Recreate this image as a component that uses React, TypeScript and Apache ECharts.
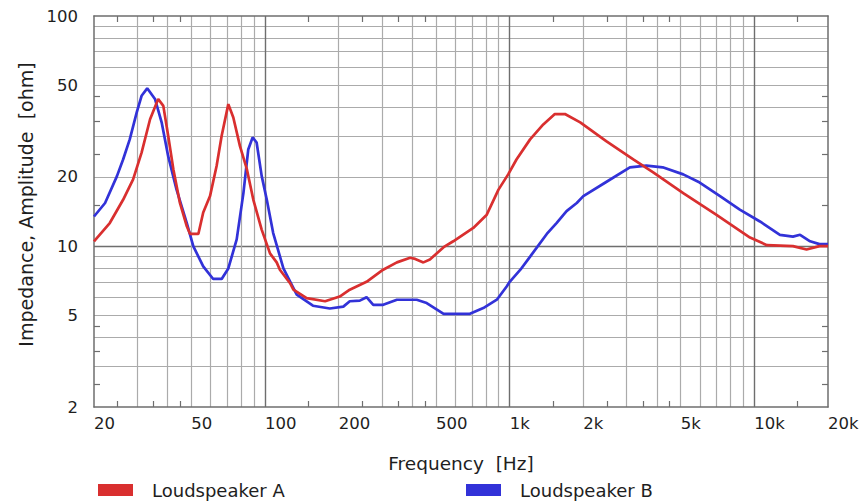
import React, { useEffect, useRef } from 'react';
import * as echarts from 'echarts';

// Loudspeaker A (red)
const freqA = [20, 23.2, 26.3, 28.9, 31.3, 33.9, 36.6, 38.4, 40.2, 42.2, 44.9, 47.9, 49.4, 53.4, 55.9, 59.6, 63.4, 66.5, 70.8, 74.2, 79, 84.3, 89.6, 96.9, 104.8, 111.6, 115, 126.6, 130.6, 148, 176, 202, 222, 260, 304, 346, 392, 411, 444, 472, 537, 588, 710, 806, 900, 986, 1066, 1212, 1372, 1530, 1682, 1942, 2480, 3200, 3860, 5120, 6980, 9600, 11260, 14380, 16340, 18460, 20000];
const impA = [10.5, 12.6, 15.9, 19.5, 25.5, 35.6, 43.6, 40.7, 30.2, 21.6, 15.4, 12.2, 11.3, 11.3, 14, 16.5, 22.3, 30.2, 41.4, 36.2, 27.2, 21.6, 15.9, 11.8, 9.3, 8.5, 7.9, 6.9, 6.47, 5.94, 5.76, 6.04, 6.47, 7.0, 7.9, 8.5, 8.9, 8.8, 8.5, 8.75, 9.9, 10.5, 12.0, 13.7, 17.6, 20.5, 23.8, 29.1, 33.8, 37.5, 37.5, 34.5, 28.6, 23.8, 20.9, 17, 13.7, 10.9, 10.1, 10.0, 9.67, 10, 10];

// Loudspeaker B (blue)
const freqB = [20, 22.2, 24.8, 26.3, 28, 29.9, 31.3, 33, 35.5, 37.8, 40.2, 43.5, 47.9, 50.9, 55.9, 61.4, 66.5, 70.8, 76.6, 81.6, 85.4, 89, 92.4, 96.9, 101.7, 108, 118.9, 134.8, 157, 184, 209, 222, 244, 260, 277, 304, 346, 417, 458, 537, 688, 780, 886, 972, 1000, 1106, 1212, 1418, 1554, 1708, 1880, 2000, 2480, 3100, 3620, 4220, 5120, 5980, 7240, 8720, 10540, 12720, 14380, 15380, 16900, 18460, 20000];
const impB = [13.45, 15.4, 20.1, 23.8, 29.1, 38.1, 45, 48.5, 43.6, 34.5, 24.6, 17.6, 12.6, 10, 8.16, 7.2, 7.2, 8.0, 10.7, 17, 26.3, 29.7, 28.2, 20.2, 15.9, 11.4, 8.0, 6.15, 5.51, 5.36, 5.46, 5.76, 5.8, 6.0, 5.56, 5.56, 5.85, 5.85, 5.66, 5.08, 5.08, 5.38, 5.85, 6.68, 7.0, 7.9, 9.0, 11.3, 12.6, 14.2, 15.4, 16.5, 19, 22, 22.4, 22, 20.5, 18.9, 16.5, 14.4, 12.8, 11.2, 11.0, 11.2, 10.5, 10.2, 10.2];

const seriesNames = ['Loudspeaker A', 'Loudspeaker B'];

// Axis tick / grid values
const xLabelValues = [20, 50, 100, 200, 500, 1000, 2000, 5000, 10000, 20000];
const xGridLight = [30, 40, 50, 60, 70, 80, 90, 200, 300, 400, 500, 600, 700, 800, 900, 2000, 3000, 4000, 5000, 6000, 7000, 8000, 9000];
const xGridDecade = [100, 1000, 10000];
const xHalfTicks = [25, 35, 45, 150, 250, 350, 450, 1500, 2500, 3500, 4500, 15000];

const yLabelValues = [2, 5, 10, 20, 50, 100];
const yGridLight = [3, 4, 5, 6, 7, 8, 9, 20, 30, 40, 50, 60, 70, 80, 90];
const yGridDecade = [10];
const yHalfTicks = [2.5, 3.5, 4.5, 15, 25, 35, 45];

const FONT = 'DejaVu Sans';
const TEXT = '#1e1e1e';
const BORDER = '#6e6e6e';
const LIGHT = '#ababab';
const RED = '#d92f2f';
const BLUE = '#3232d8';

function fmtX(v: number) {
  const r = Math.round(v);
  return r >= 1000 ? Math.round(r / 1000) + 'k' : String(r);
}

export default function App() {
  const ref = useRef<HTMLDivElement>(null);
  useEffect(() => {
    if (!ref.current) return;
    const chart = echarts.init(ref.current, undefined, { renderer: 'svg' });

    const xBase = { type: 'log', logBase: 10, min: 20, max: 20000, gridIndex: 0 };
    const yBase = { type: 'log', logBase: 10, min: 2, max: 100, gridIndex: 0 };
    const hidden = { show: false };
    const tickStyle = { color: BORDER, width: 1.2 };

    const legendText = { fontFamily: FONT, fontSize: 18, color: TEXT, padding: [0, 0, 18, 14] };

    const option: any = {
      animation: false,
      backgroundColor: '#ffffff',
      grid: { left: 94, right: 36, top: 16, bottom: 94 },
      legend: [
        {
          data: [seriesNames[0]], left: 98, top: 481, padding: 0, icon: 'rect',
          itemWidth: 35, itemHeight: 12, textStyle: legendText,
        },
        {
          data: [seriesNames[1]], left: 466, top: 481, padding: 0, icon: 'rect',
          itemWidth: 35, itemHeight: 12, textStyle: legendText,
        },
      ],
      xAxis: [
        {
          ...xBase, position: 'bottom',
          name: 'Frequency  [Hz]', nameLocation: 'middle', nameGap: 47,
          nameTextStyle: { fontFamily: FONT, fontSize: 18.5, color: TEXT },
          axisLine: { show: true, onZero: false, lineStyle: { color: BORDER, width: 1.5 } },
          axisTick: { show: true, inside: true, length: 6, customValues: xHalfTicks, lineStyle: tickStyle },
          axisLabel: {
            customValues: xLabelValues, formatter: fmtX, align: 'left', margin: 8,
            fontFamily: FONT, fontSize: 16.5, color: TEXT,
          },
          splitLine: hidden, minorTick: hidden, minorSplitLine: hidden,
        },
        {
          ...xBase, position: 'top',
          axisLine: { show: true, onZero: false, lineStyle: { color: BORDER, width: 1.5 } },
          axisTick: { show: true, inside: true, length: 6, customValues: xHalfTicks, lineStyle: tickStyle },
          axisLabel: hidden, splitLine: hidden,
        },
        {
          ...xBase, position: 'bottom',
          axisLine: hidden, axisLabel: hidden,
          axisTick: { show: false, customValues: xGridLight },
          splitLine: { show: true, lineStyle: { color: LIGHT, width: 1.2 } },
        },
        {
          ...xBase, position: 'bottom',
          axisLine: hidden, axisLabel: hidden,
          axisTick: { show: false, customValues: xGridDecade },
          splitLine: { show: true, lineStyle: { color: BORDER, width: 1.4 } },
        },
      ],
      yAxis: [
        {
          ...yBase, position: 'left',
          name: 'Impedance, Amplitude  [ohm]', nameLocation: 'middle', nameGap: 58,
          nameTextStyle: { fontFamily: FONT, fontSize: 19, color: TEXT, padding: [0, 0, 0, 14] },
          axisLine: { show: true, onZero: false, lineStyle: { color: BORDER, width: 1.5 } },
          axisTick: { show: true, inside: true, length: 6, customValues: yHalfTicks, lineStyle: tickStyle },
          axisLabel: {
            customValues: yLabelValues, formatter: (v: number) => String(Math.round(v)), margin: 16,
            fontFamily: FONT, fontSize: 16.5, color: TEXT,
          },
          splitLine: hidden, minorTick: hidden, minorSplitLine: hidden,
        },
        {
          ...yBase, position: 'right',
          axisLine: { show: true, onZero: false, lineStyle: { color: BORDER, width: 1.5 } },
          axisTick: { show: true, inside: true, length: 6, customValues: yHalfTicks, lineStyle: tickStyle },
          axisLabel: hidden, splitLine: hidden,
        },
        {
          ...yBase, position: 'left',
          axisLine: hidden, axisLabel: hidden,
          axisTick: { show: false, customValues: yGridLight },
          splitLine: { show: true, lineStyle: { color: LIGHT, width: 1.2 } },
        },
        {
          ...yBase, position: 'left',
          axisLine: hidden, axisLabel: hidden,
          axisTick: { show: false, customValues: yGridDecade },
          splitLine: { show: true, lineStyle: { color: BORDER, width: 1.4 } },
        },
      ],
      series: [
        {
          name: seriesNames[0], type: 'line', xAxisIndex: 0, yAxisIndex: 0,
          data: freqA.map((f, i) => [f, impA[i]]),
          showSymbol: false, symbol: 'none', color: RED,
          lineStyle: { color: RED, width: 2.7 }, z: 3,
        },
        {
          name: seriesNames[1], type: 'line', xAxisIndex: 0, yAxisIndex: 0,
          data: freqB.map((f, i) => [f, impB[i]]),
          showSymbol: false, symbol: 'none', color: BLUE,
          lineStyle: { color: BLUE, width: 2.7 }, z: 2,
        },
      ],
    };
    chart.setOption(option);
    return () => chart.dispose();
  }, []);

  return (
    <div
      ref={ref}
      style={{ position: 'fixed', left: 0, top: 0, width: 864, height: 501, background: '#fff' }}
    />
  );
}
